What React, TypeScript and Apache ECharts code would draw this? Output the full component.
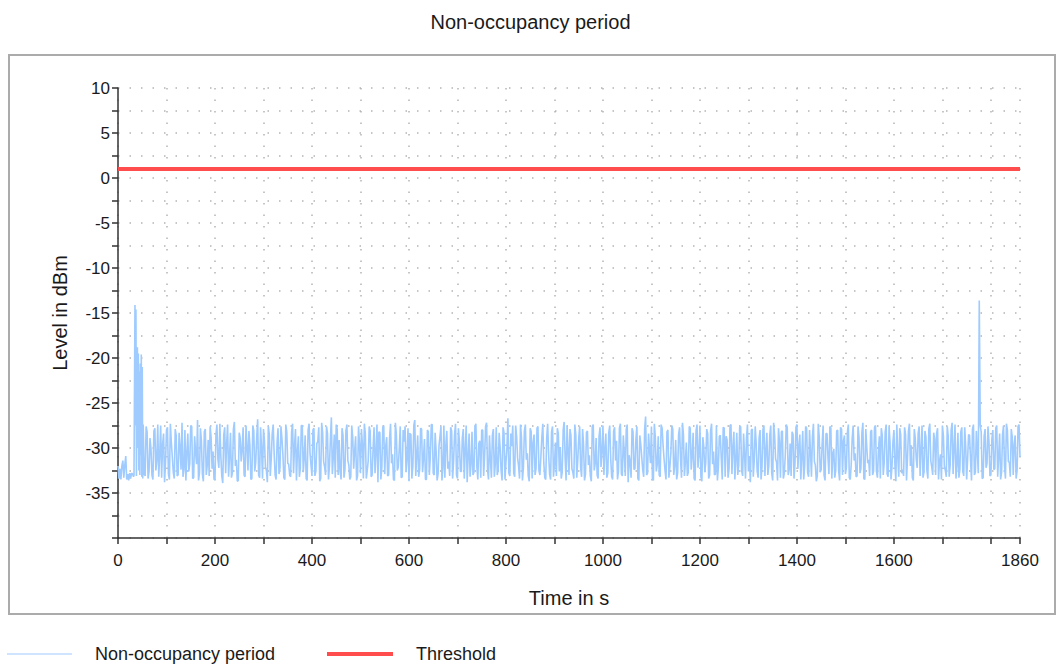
import React, { useEffect, useRef } from "react";
import * as echarts from "echarts";

const chartTitle = "Non-occupancy period";
const seriesNames = ["Non-occupancy period", "Threshold"];
const xAxisName = "Time in s";
const yAxisName = "Level in dBm";
const xMax = 1860;
const yMin = -40;
const yMax = 10;
const thresholdLevel = 1;

// start of recording (seconds, dBm)
const startTimes = [0, 2, 4, 6, 8, 10, 12, 14, 16, 18, 20, 22, 24, 26, 28, 30, 32, 33, 35, 36, 37, 38, 40, 41, 42, 43, 44, 45, 46, 47, 48, 49, 50, 51];
const startLevels = [-32.0, -33.4, -32.3, -33.5, -32.0, -31.4, -33.3, -31.9, -30.9, -33.5, -32.9, -33.6, -32.8, -33.4, -32.8, -32.9, -33.2, -33.0, -14.1, -27.5, -14.6, -33.1, -18.8, -30.0, -19.5, -32.5, -21.5, -33.0, -20.6, -30.8, -19.6, -33.2, -21.0, -33.4];

// rest of the recording: samples at 52, 56, 60 ... s (A) and at 54, 58, 62 ... s (B)
const noiseStart = 52;
const noiseStep = 4;
const noiseLevelsA = [
  -27.4, -33.1, -28.2, -32.6, -30.1, -33.5, -27.8, -31.4, -33.2, -27.5, -29.6, -33.8, -28.0, -32.9, -27.3, -31.0, -33.4, -28.6, -33.0, -29.9,
  -27.2, -32.4, -33.6, -28.4, -31.7, -27.6, -33.3, -30.5, -26.9, -32.8, -29.2, -33.7, -27.9, -31.9, -33.1, -28.8, -30.4, -33.5, -27.4, -32.2,
  -30.8, -33.9, -27.7, -29.5, -33.2, -28.3, -32.7, -27.1, -31.3, -33.6, -28.9, -30.2, -33.0, -27.5, -32.5, -29.7, -33.4, -28.1, -31.6, -26.8,
  -33.3, -30.0, -27.9, -32.1, -33.8, -28.5, -31.2, -27.4, -33.0, -29.4, -32.9, -27.6, -30.7, -33.5, -28.2, -31.8, -33.2, -27.3, -29.8, -33.6,
  -28.7, -32.3, -27.5, -31.1, -33.4, -28.0, -30.6, -33.1, -27.8, -32.6, -29.3, -33.7, -27.2, -31.5, -33.0, -28.4, -32.0, -26.6, -30.9, -33.3,
  -27.9, -29.1, -33.5, -28.6, -32.4, -27.4, -31.9, -33.2, -28.8, -30.3, -33.6, -27.6, -32.8, -29.6, -27.3, -33.4, -31.4, -28.1, -33.0, -27.7,
  -30.5, -33.8, -28.3, -32.2, -27.5, -29.9, -33.1, -28.9, -31.7, -33.5, -27.2, -32.5, -30.1, -33.3, -28.0, -27.6, -31.2, -33.7, -28.5, -32.0,
  -26.9, -30.8, -33.2, -27.8, -32.7, -29.0, -33.5, -28.2, -31.0, -27.4, -33.0, -30.4, -32.9, -28.7, -33.6, -27.5, -29.7, -32.3, -33.1, -28.1,
  -31.5, -27.3, -33.4, -29.3, -32.6, -27.9, -30.2, -33.8, -28.4, -31.8, -33.0, -27.6, -32.1, -29.5, -33.3, -28.0, -30.9, -27.2, -33.5, -31.3,
  -28.6, -33.2, -27.7, -32.4, -30.0, -33.6, -28.3, -31.6, -26.7, -33.1, -29.8, -32.8, -27.5, -31.1, -33.4, -28.8, -32.2, -27.4, -30.6, -33.7,
  -28.2, -29.4, -33.0, -27.8, -32.5, -31.0, -27.3, -33.3, -28.9, -30.7, -33.5, -27.6, -31.9, -33.1, -28.4, -29.9, -32.7, -27.1, -33.6, -30.3,
  -27.9, -32.3, -33.4, -28.5, -31.4, -27.6, -33.2, -29.6, -32.9, -28.1, -30.8, -33.7, -27.4, -31.7, -33.0, -28.7, -32.1, -27.5, -30.1, -33.3,
  -28.3, -31.2, -33.5, -27.7, -29.2, -32.6, -27.3, -33.1, -30.5, -28.0, -33.8, -31.5, -27.8, -32.4, -29.0, -33.4, -28.6, -31.0, -33.2, -26.5,
  -32.8, -30.2, -27.6, -33.6, -28.8, -31.8, -33.0, -27.4, -29.7, -32.5, -28.2, -33.3, -30.6, -27.9, -32.0, -33.5, -28.5, -31.3, -27.2, -33.1,
  -29.4, -32.7, -27.8, -30.9, -33.4, -28.1, -32.2, -27.5, -33.7, -29.9, -31.6, -28.4, -33.0, -27.3, -30.4, -32.9, -33.6, -28.7, -31.1, -27.7,
  -33.2, -29.1, -32.3, -27.4, -30.0, -33.5, -28.3, -31.9, -27.6, -33.1, -30.7, -28.9, -32.6, -33.8, -27.9, -31.4, -29.5, -33.3, -28.0, -32.1,
  -27.5, -30.3, -33.0, -28.6, -32.8, -27.2, -31.2, -33.6, -29.3, -28.2, -33.4, -30.8, -27.7, -32.4, -33.1, -28.5, -31.7, -27.4, -29.8, -33.5,
  -28.1, -32.0, -27.8, -33.2, -30.5, -28.7, -31.5, -33.7, -27.3, -32.7, -29.6, -33.0, -28.4, -31.0, -27.6, -33.4, -30.1, -32.5, -28.0, -33.6,
  -27.9, -29.2, -32.9, -28.3, -33.3, -31.8, -27.5, -30.6, -33.1, -28.8, -32.3, -27.2, -33.5, -29.9, -31.3, -28.2, -33.0, -27.7, -32.6, -30.4,
  -33.4, -28.6, -31.6, -27.4, -33.2, -29.4, -32.1, -28.0, -33.7, -30.9, -27.8, -32.8, -33.1, -28.5, -31.1, -27.3, -29.7, -33.6, -28.9, -32.2,
  -27.6, -30.2, -33.3, -28.1, -32.5, -27.9, -31.4, -33.0, -29.0, -28.4, -33.5, -30.7, -27.5, -32.0, -33.2, -28.7, -31.9, -27.2, -30.0, -33.4,
  -28.3, -32.4, -27.7, -33.1, -29.8, -31.2, -28.6, -33.6, -27.4, -32.7, -30.5, -13.6, -28.2, -33.3, -27.9, -31.7, -29.3, -33.0, -28.0, -32.3,
  -27.5, -30.9, -33.5, -28.5, -32.0, -27.3, -31.5, -33.2, -28.8, -29.6, -33.4, -27.6, -31.0,
];
const noiseLevelsB = [
  -32.9, -27.6, -33.4, -28.9, -33.0, -28.1, -32.5, -27.4, -30.8, -33.3, -28.4, -31.6, -27.7, -33.5, -29.4, -32.7, -27.9, -33.1, -28.3, -32.4,
  -33.2, -28.0, -30.5, -32.6, -27.5, -33.4, -28.7, -31.8, -33.6, -27.8, -32.9, -28.2, -33.0, -29.1, -27.6, -32.3, -33.5, -28.5, -31.2, -27.3,
  -33.1, -28.6, -32.8, -27.4, -30.9, -33.3, -27.9, -32.0, -33.7, -28.3, -31.5, -27.7, -33.2, -29.8, -28.1, -33.5, -27.5, -32.6, -28.8, -33.0,
  -27.7, -33.4, -29.2, -32.5, -27.6, -33.1, -28.4, -30.6, -33.5, -27.8, -32.2, -28.9, -33.3, -27.4, -31.7, -33.0, -28.2, -32.8, -27.9, -30.4,
  -33.2, -27.5, -32.7, -28.6, -33.6, -27.3, -31.9, -28.0, -33.1, -29.5, -27.7, -33.4, -28.3, -32.1, -27.6, -33.5, -29.0, -32.9, -28.5, -27.4,
  -33.0, -32.6, -27.8, -33.3, -28.1, -31.4, -33.5, -27.5, -32.3, -28.7, -33.1, -29.6, -27.9, -33.4, -28.4, -32.5, -27.6, -33.2, -30.1, -32.8,
  -27.4, -28.2, -33.5, -27.7, -32.9, -28.8, -33.0, -27.3, -30.7, -33.6, -28.5, -32.1, -27.6, -33.2, -29.3, -32.7, -27.8, -28.4, -33.4, -27.5,
  -33.1, -28.6, -32.4, -27.9, -31.1, -33.5, -28.0, -33.0, -27.4, -32.8, -28.3, -33.6, -29.7, -27.6, -32.2, -33.3, -28.1, -31.5, -27.7, -33.4,
  -28.5, -33.0, -27.8, -32.6, -28.9, -33.4, -27.5, -31.0, -33.2, -28.2, -32.7, -27.3, -33.5, -29.2, -28.0, -33.1, -27.6, -32.4, -28.6, -33.3,
  -27.9, -31.8, -33.0, -28.3, -32.5, -27.7, -33.5, -29.9, -32.8, -28.4, -27.5, -33.2, -28.7, -32.0, -27.4, -33.6, -28.1, -31.3, -33.1, -27.8,
  -33.4, -28.5, -32.3, -27.6, -33.0, -28.8, -31.6, -33.5, -27.3, -32.9, -28.2, -33.2, -29.4, -27.8, -32.6, -33.4, -28.0, -31.1, -27.5, -33.0,
  -28.6, -32.7, -27.4, -33.3, -29.0, -32.2, -27.9, -33.6, -28.3, -31.9, -33.1, -27.6, -32.5, -28.9, -33.4, -27.7, -30.3, -33.0, -28.4, -32.8,
  -27.5, -33.2, -28.1, -31.4, -33.5, -27.8, -32.9, -28.6, -33.1, -27.4, -30.8, -33.3, -28.2, -32.3, -27.6, -33.6, -29.6, -32.4, -27.9, -33.0,
  -28.4, -31.7, -33.4, -27.3, -32.6, -28.7, -33.2, -27.8, -31.2, -33.5, -28.0, -32.1, -27.5, -33.0, -29.1, -32.8, -27.7, -33.3, -28.5, -31.5,
  -33.1, -27.6, -32.4, -28.3, -33.6, -27.4, -30.5, -33.2, -28.8, -32.7, -27.9, -33.4, -28.1, -31.8, -33.0, -27.5, -32.2, -28.6, -33.5, -27.8,
  -28.7, -33.3, -27.5, -32.9, -28.2, -31.3, -33.0, -27.7, -32.5, -28.4, -33.4, -27.4, -30.9, -28.0, -33.2, -27.6, -32.6, -28.9, -33.5, -27.9,
  -33.1, -28.3, -32.0, -27.5, -33.6, -28.6, -31.6, -27.8, -33.3, -28.1, -32.8, -27.4, -33.0, -29.5, -28.2, -33.4, -27.7, -32.3, -28.5, -31.0,
  -33.5, -27.6, -32.7, -28.0, -33.2, -27.3, -31.9, -33.1, -28.8, -32.4, -27.5, -33.6, -28.4, -32.9, -27.8, -30.6, -33.3, -28.1, -32.5, -27.7,
  -33.0, -28.6, -32.2, -27.4, -33.5, -28.9, -31.4, -33.2, -27.6, -32.8, -28.3, -33.4, -27.9, -31.7, -33.1, -28.0, -32.6, -27.5, -33.3, -28.7,
  -27.8, -33.0, -28.2, -32.9, -27.6, -33.5, -29.3, -31.8, -27.4, -33.2, -28.5, -32.4, -27.7, -33.6, -28.1, -32.0, -33.3, -27.9, -31.2, -28.4,
  -33.1, -27.5, -32.7, -28.8, -33.4, -27.3, -32.1, -28.3, -33.0, -27.8, -31.5, -33.5, -28.6, -32.5, -27.6, -33.2, -28.0, -32.9, -27.4, -31.9,
  -33.3, -28.2, -32.6, -27.7, -33.5, -28.5, -31.3, -27.9, -33.0, -28.1, -32.8, -27.5, -33.4, -28.7, -32.2, -27.6, -33.1, -29.0, -32.4, -27.8,
  -33.2, -28.4, -32.7, -27.5, -33.4, -28.0, -31.6, -27.9, -33.0, -28.6, -32.5, -27.4,
];

const FONT = "'Liberation Sans', Arial, sans-serif";
const TEXT = "#1a1a1a";
const BLUE = "#9fcbff";
const RED = "#ff4d4d";

export default function App() {
  const ref = useRef<HTMLDivElement>(null);

  useEffect(() => {
    if (!ref.current) return;
    const chart = echarts.init(ref.current, null, { renderer: "svg" });

    const levelData: [number, number][] = [];
    startTimes.forEach((t, i) => levelData.push([t, startLevels[i]]));
    noiseLevelsA.forEach((v, i) => {
      levelData.push([noiseStart + i * noiseStep, v]);
      if (i < noiseLevelsB.length) levelData.push([noiseStart + i * noiseStep + noiseStep / 2, noiseLevelsB[i]]);
    });

    const dotted = { color: "#b4b4b4", width: 1.5, type: [1.5, 10] as number[] };
    const legendY = 654;

    chart.setOption({
      animation: false,
      backgroundColor: "#ffffff",
      title: {
        text: chartTitle,
        left: "center",
        top: 7,
        textStyle: { fontFamily: FONT, fontSize: 20, fontWeight: "normal", color: TEXT },
      },
      graphic: [
        {
          type: "rect",
          shape: { x: 9, y: 55, width: 1046, height: 559 },
          style: { fill: "none", stroke: "#ababab", lineWidth: 2 },
          silent: true,
        },
        {
          type: "line",
          shape: { x1: 7, y1: legendY, x2: 72, y2: legendY },
          style: { stroke: BLUE, lineWidth: 1.2 },
          silent: true,
        },
        {
          type: "text",
          x: 95,
          y: legendY,
          style: { text: seriesNames[0], fontFamily: FONT, fontSize: 18, fill: TEXT, verticalAlign: "middle" },
          silent: true,
        },
        {
          type: "line",
          shape: { x1: 327, y1: legendY, x2: 393, y2: legendY },
          style: { stroke: RED, lineWidth: 4 },
          silent: true,
        },
        {
          type: "text",
          x: 416,
          y: legendY,
          style: { text: seriesNames[1], fontFamily: FONT, fontSize: 18, fill: TEXT, verticalAlign: "middle" },
          silent: true,
        },
      ],
      grid: { left: 118, right: 41, top: 88, bottom: 126, containLabel: false },
      xAxis: {
        type: "value",
        min: 0,
        max: xMax,
        interval: 100,
        name: xAxisName,
        nameLocation: "middle",
        nameGap: 50,
        nameTextStyle: { fontFamily: FONT, fontSize: 20, color: TEXT },
        axisLine: { onZero: false, lineStyle: { color: "#333", width: 1.5 } },
        axisTick: { show: true, length: 6, lineStyle: { color: "#333", width: 1.5 } },
        axisLabel: {
          fontFamily: FONT,
          fontSize: 17,
          color: TEXT,
          margin: 14,
          showMaxLabel: true,
          formatter: (v: number) => (v === xMax || (v % 200 === 0 && v <= 1600) ? String(v) : ""),
        },
        splitLine: { show: true, lineStyle: dotted },
      },
      yAxis: {
        type: "value",
        min: yMin,
        max: yMax,
        interval: 2.5,
        name: yAxisName,
        nameLocation: "middle",
        nameGap: 48,
        nameTextStyle: { fontFamily: FONT, fontSize: 20, color: TEXT },
        axisLine: { show: true, lineStyle: { color: "#333", width: 1.5 } },
        axisTick: { show: true, length: 6, lineStyle: { color: "#333", width: 1.5 } },
        axisLabel: {
          fontFamily: FONT,
          fontSize: 17,
          color: TEXT,
          margin: 8,
          formatter: (v: number) => (v % 5 === 0 && v > yMin ? String(v) : ""),
        },
        splitLine: { show: true, lineStyle: dotted },
      },
      series: [
        {
          name: seriesNames[0],
          type: "line",
          data: levelData,
          showSymbol: false,
          symbol: "none",
          lineStyle: { color: BLUE, width: 1.6 },
          itemStyle: { color: BLUE },
          z: 2,
        },
        {
          name: seriesNames[1],
          type: "line",
          data: [
            [0, thresholdLevel],
            [xMax, thresholdLevel],
          ],
          showSymbol: false,
          symbol: "none",
          lineStyle: { color: RED, width: 4 },
          itemStyle: { color: RED },
          z: 3,
        },
      ],
    });

    return () => chart.dispose();
  }, []);

  return <div ref={ref} style={{ width: 1061, height: 664, position: "absolute", left: 0, top: 0 }} />;
}
